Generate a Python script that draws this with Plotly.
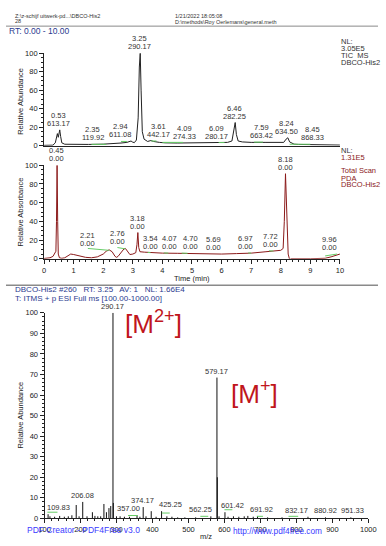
import numpy as np
import plotly.graph_objects as go

W, H = 386, 546
FONT = "Liberation Sans, Arial, sans-serif"

# ---------------- data ----------------
# TIC MS chromatogram (time min, relative abundance %)
tic_t = [0.0, 0.3, 0.38, 0.42, 0.45, 0.48, 0.51, 0.53, 0.56, 0.6, 0.7, 1.0, 1.5, 2.0, 2.35, 2.6, 2.8,
         2.9, 2.94, 2.98, 3.05, 3.12, 3.18, 3.22, 3.25, 3.28, 3.32, 3.38, 3.5, 3.61, 3.7, 3.9, 4.09,
         4.5, 5.0, 5.5, 6.0, 6.09, 6.2, 6.35, 6.42, 6.46, 6.5, 6.56, 6.7, 7.0, 7.5, 7.59, 7.8, 8.1,
         8.18, 8.24, 8.3, 8.4, 8.45, 8.6, 9.0, 9.5, 10.0]
tic_v = [0.3, 0.5, 3, 12, 13, 9, 15, 17, 10, 3, 1.5, 1.2, 1.3, 1.6, 2.0, 2.8, 3.5,
         4.8, 5.0, 4.0, 3.2, 6, 30, 85, 100, 60, 15, 7, 4.5, 5.5, 4.5, 3.5, 3.0,
         2.8, 2.8, 3.0, 3.2, 3.2, 3.5, 5, 20, 25, 12, 5, 4, 3.5, 3.5, 3.5, 3.2, 3.5,
         7, 8.5, 4, 2, 1.6, 1.3, 1.0, 0.8, 0.6]
tic_peak_rt = [0.53, 2.35, 2.94, 3.25, 3.61, 4.09, 6.09, 6.46, 7.59, 8.24, 8.45]
tic_peak_mz = ["613.17", "119.92", "611.08", "290.17", "442.17", "274.33", "280.17", "282.25",
               "663.42", "634.50", "868.33"]

# PDA total scan chromatogram (time min, relative absorbance %)
pda_t = [0.0, 0.1, 0.2, 0.3, 0.36, 0.40, 0.42, 0.44, 0.46, 0.48, 0.52, 0.6, 0.7, 0.8, 0.9, 1.0,
         1.2, 1.4, 1.6, 1.8, 2.0, 2.1, 2.2, 2.3, 2.4, 2.45, 2.5, 2.6, 2.7, 2.75, 2.82, 2.9, 3.0,
         3.1, 3.14, 3.17, 3.2, 3.24, 3.4, 3.6, 4.0, 4.5, 5.0, 5.5, 6.0, 6.5, 7.0, 7.5, 7.8, 8.0,
         8.08, 8.12, 8.16, 8.2, 8.25, 8.3, 8.35, 9.0, 9.5, 9.7, 9.9, 10.0]
pda_v = [0.3, 0.5, 1, 2.5, 5, 8, 40, 100, 40, 5, 1, 0.5, 1, 3, 5, 4.5,
         3, 1.5, 1, 2, 5, 8, 9.5, 7.5, 2.5, 1.5, 2.5, 7, 10.5, 11, 8, 4.5, 5,
         6.5, 15, 28, 12, 7.5, 7, 6.5, 6, 5.8, 5.5, 5, 5, 5.5, 6, 7.5, 8.5, 9,
         11, 40, 91, 45, 5, -1, 0, 0, 0.5, 2, 4, 5]
pda_peak_rt = [0.45, 2.21, 2.76, 3.18, 3.54, 4.07, 4.70, 5.69, 6.97, 7.72, 8.18, 9.96]
pda_peak_val = ["0.00"] * 12

# Mass spectrum at RT 3.25 (m/z, relative abundance %)
ms_mz = [109.83, 115, 128, 142, 155, 166, 176, 188, 196, 206.08, 218, 233, 240, 248, 256, 265,
         272, 279, 284, 290.17, 291.2, 300, 310, 322, 336, 357.00, 365, 374.17, 382, 396.5, 410,
         425.25, 440, 454, 470, 490, 520, 562.25, 579.17, 580.2, 585, 601.42, 610, 625, 640,
         655, 665, 680, 691.92, 720, 760, 832.17, 880.92, 951.33]
ms_int = [2, 1, 0.8, 1.2, 0.8, 1, 1.5, 6.5, 1, 8, 1, 3, 1.2, 1, 1, 7,
          3, 5, 6, 100, 7.5, 1, 1, 0.8, 0.8, 1.5, 0.8, 5.5, 1, 3.5, 0.8,
          3.5, 1, 0.8, 0.5, 0.5, 0.5, 1, 68.5, 20, 1, 3, 0.8, 1, 0.8,
          1, 1.2, 0.8, 1, 0.5, 0.5, 0.8, 0.5, 0.5]
ms_labels = ["109.83", "206.08", "290.17", "357.00", "374.17", "425.25", "562.25", "579.17",
             "601.42", "691.92", "832.17", "880.92", "951.33"]

# integration baselines (green)
tic_base = [(1.6, 2.1, 1.4), (2.6, 2.8, 4.5), (3.62, 3.8, 5.0), (4.0, 4.7, 3.5),
            (5.9, 6.1, 3.3), (7.1, 7.4, 3.8), (8.3, 9.0, 1.5)]
pda_base = [(1.48, 2.2, 11.0, 9.0), (2.48, 2.75, 12.0, 10.5), (3.5, 3.6, 6.8, 6.5),
            (4.05, 4.2, 6.2, 6.0), (4.65, 4.85, 6.0, 5.8), (6.9, 7.0, 6.2, 6.0),
            (7.6, 7.75, 8.5, 8.2), (9.5, 9.9, 3.0, 5.0)]
ms_base = [(108, 136, 3.0), (332, 359, 1.4), (426, 448, 2.6), (533, 555, 1.0),
           (600, 622, 4.2), (690, 707, 1.0), (778, 805, 1.0)]

# label placement (layout, horizontal centre of the text)
tic_label_x = [0.50, 1.64, 2.57, 3.22, 3.87, 4.74, 5.82, 6.42, 7.34, 8.21, 9.08]
pda_label_x = [0.43, 1.48, 2.49, 3.17, 3.60, 4.25, 4.96, 5.72, 6.80, 7.65, 8.16, 9.65]
ms_label_x = [140, 204.5, 290.17, 334, 372, 451, 533, 577.7, 622, 703, 801, 881, 957]

# ---------------- helpers ----------------
def px(x):
    return x / W

def py(y):
    return 1 - y / H

def apex(rt, ts, vs, win=0.045):
    """height of the trace at a labelled retention time (max in a small window)"""
    best = float(np.interp(rt, ts, vs))
    for t, v in zip(ts, vs):
        if abs(t - rt) <= win:
            best = max(best, v)
    return best

fig = go.Figure()

fig.add_trace(go.Scatter(x=tic_t, y=tic_v, mode="lines", line=dict(color="#222222", width=1),
                         xaxis="x", yaxis="y", hoverinfo="skip", showlegend=False))
fig.add_trace(go.Scatter(x=pda_t, y=pda_v, mode="lines", line=dict(color="#8B1A1A", width=1),
                         xaxis="x2", yaxis="y2", hoverinfo="skip", showlegend=False))

sx, sy = [], []
for m, v in zip(ms_mz, ms_int):
    sx += [m, m, None]
    sy += [0, v, None]
fig.add_trace(go.Scatter(x=sx, y=sy, mode="lines", line=dict(color="#111111", width=1),
                         xaxis="x3", yaxis="y3", hoverinfo="skip", showlegend=False))

GREEN = "#66CC66"
gx, gy = [], []
for a, b, v in tic_base:
    gx += [a, b, None]; gy += [v, v, None]
fig.add_trace(go.Scatter(x=gx, y=gy, mode="lines", line=dict(color=GREEN, width=1),
                         xaxis="x", yaxis="y", hoverinfo="skip", showlegend=False))
gx, gy = [], []
for a, b, v1, v2 in pda_base:
    gx += [a, b, None]; gy += [v1, v2, None]
fig.add_trace(go.Scatter(x=gx, y=gy, mode="lines", line=dict(color=GREEN, width=1),
                         xaxis="x2", yaxis="y2", hoverinfo="skip", showlegend=False))
gx, gy = [], []
for a, b, v in ms_base:
    gx += [a, b, None]; gy += [v, v, None]
fig.add_trace(go.Scatter(x=gx, y=gy, mode="lines", line=dict(color=GREEN, width=1),
                         xaxis="x3", yaxis="y3", hoverinfo="skip", showlegend=False))

# ---------------- axes ----------------
tickfont = dict(family=FONT, size=7.5, color="#222222")
ax_common = dict(showline=True, linecolor="#222222", linewidth=1, showgrid=False, zeroline=False,
                 ticks="outside", tickcolor="#222222", tickfont=tickfont, fixedrange=True)

xd = [px(39.5), px(346.5)]
fig.update_layout(
    xaxis=dict(domain=xd, range=[0, 10], anchor="y", **{**ax_common, "ticks": ""},
               showticklabels=False),
    yaxis=dict(domain=[py(144), py(50)], range=[0, 100], anchor="x", dtick=20, ticklen=4,
               minor=dict(dtick=5, ticklen=2, ticks="outside", tickcolor="#222222"), **ax_common),
    xaxis2=dict(domain=xd, range=[0, 10], anchor="y2", dtick=1, ticklen=4,
                minor=dict(dtick=0.2, ticklen=2, ticks="outside", tickcolor="#222222"), **ax_common),
    yaxis2=dict(domain=[py(259), py(164)], range=[0, 100], anchor="x2", dtick=20, ticklen=4,
                minor=dict(dtick=5, ticklen=2, ticks="outside", tickcolor="#222222"), **ax_common),
    xaxis3=dict(domain=[px(40), px(376)], range=[100, 1000], anchor="y3", dtick=100, ticklen=4,
                minor=dict(dtick=20, ticklen=2, ticks="outside", tickcolor="#222222"), **ax_common),
    yaxis3=dict(domain=[py(523), py(314)], range=[0, 100], anchor="x3", dtick=10, ticklen=4,
                minor=dict(dtick=2, ticklen=2, ticks="outside", tickcolor="#222222"), **ax_common),
)

ann = []
lab_font = dict(family=FONT, size=7.5, color="#333333")

def label(xref, yref, x, y, text, yshift=0, anchor="bottom"):
    ann.append(dict(x=x, y=y, xref=xref, yref=yref, text=text, showarrow=False, xanchor="center",
                    yanchor=anchor, yshift=yshift, font=lab_font, borderpad=0))

for rt, mz, lx in zip(tic_peak_rt, tic_peak_mz, tic_label_x):
    yv = apex(rt, tic_t, tic_v)
    label("x", "y", lx, yv, mz, 1)
    label("x", "y", lx, yv, f"{rt:.2f}", 9)

for rt, val, lx in zip(pda_peak_rt, pda_peak_val, pda_label_x):
    yv = apex(rt, pda_t, pda_v)
    label("x2", "y2", lx, yv, val, 1)
    label("x2", "y2", lx, yv, f"{rt:.2f}", 9)

ms_lookup = dict(zip(ms_mz, ms_int))
for t, lx in zip(ms_labels, ms_label_x):
    label("x3", "y3", lx, ms_lookup[float(t)], t, 1)

def ptext(x, y, text, size=7.5, color="#222222", xanchor="left", angle=0, yanchor="middle"):
    ann.append(dict(x=px(x), y=py(y), xref="paper", yref="paper", text=text, showarrow=False,
                    xanchor=xanchor, yanchor=yanchor, textangle=angle,
                    font=dict(family=FONT, size=size, color=color), borderpad=0))

# header
ptext(8, 12.5, "Z:\\z-schijf uitwerk-pd...\\DBCO-His2", 5.5, "#333333")
ptext(8, 17.5, "28", 5.5, "#333333")
ptext(174, 12.5, "1/21/2022 18:05:08", 5.5, "#333333")
ptext(174, 18, "D:\\methods\\Roy Oerlemans\\general.meth", 5.5, "#333333")
ptext(2, 27, "RT: 0.00 - 10.00", 8.5, "#2B3A8F")

# NL blocks
for y, t in zip([38, 45, 52, 59], ["NL:", "3.05E5", "TIC  MS", "DBCO-His2"]):
    ptext(347, y, t, 7.5, "#333333")
ptext(347, 149, "NL:", 7.5, "#333333")
for y, t in zip([156, 169, 177, 184], ["1.31E5", "Total Scan", "PDA", "DBCO-His2"]):
    ptext(347, y, t, 7.5, "#8B1A1A")

# axis titles
ptext(15, 99, "Relative Abundance", 7.5, "#222222", "center", -90)
ptext(15, 211.5, "Relative Absorbance", 7.5, "#222222", "center", -90)
ptext(15, 418, "Relative Abundance", 7.5, "#222222", "center", -90)
ptext(193, 279, "Time (min)", 7.5, "#222222", "center")
ptext(208, 541, "m/z", 7.5, "#222222", "center")

# spectrum header
ptext(8, 290.5, "DBCO-His2 #260   RT: 3.25   AV: 1   NL: 1.66E4", 8, "#2B3A8F")
ptext(8, 299, "T: ITMS + p ESI Full ms [100.00-1000.00]", 8, "#2B3A8F")

# ion annotations
ptext(122, 324, "[M<sup>2+</sup>]", 26, "#C0161C")
ptext(232, 395, "[M<sup>+</sup>]", 26, "#C0161C")

# footer watermark
ptext(21, 535, "PDF Creator - PDF4Free v3.0", 8.5, "#3A3AFF")
ptext(235, 536, "http://www.pdf4free.com", 8.3, "#3A3AFF")

fig.update_layout(
    annotations=ann,
    shapes=[
        dict(type="line", xref="paper", yref="paper", x0=0, x1=1, y0=py(22.5), y1=py(22.5),
             line=dict(color="#8A8A8A", width=1)),
        dict(type="line", xref="paper", yref="paper", x0=0, x1=1, y0=py(286), y1=py(286),
             line=dict(color="#8A8A8A", width=1.5)),
    ],
    width=W, height=H, autosize=False,
    margin=dict(l=0, r=0, t=0, b=0),
    paper_bgcolor="white", plot_bgcolor="white",
    font=dict(family=FONT),
)

fig.write_html("out.html", config={"displayModeBar": False})
